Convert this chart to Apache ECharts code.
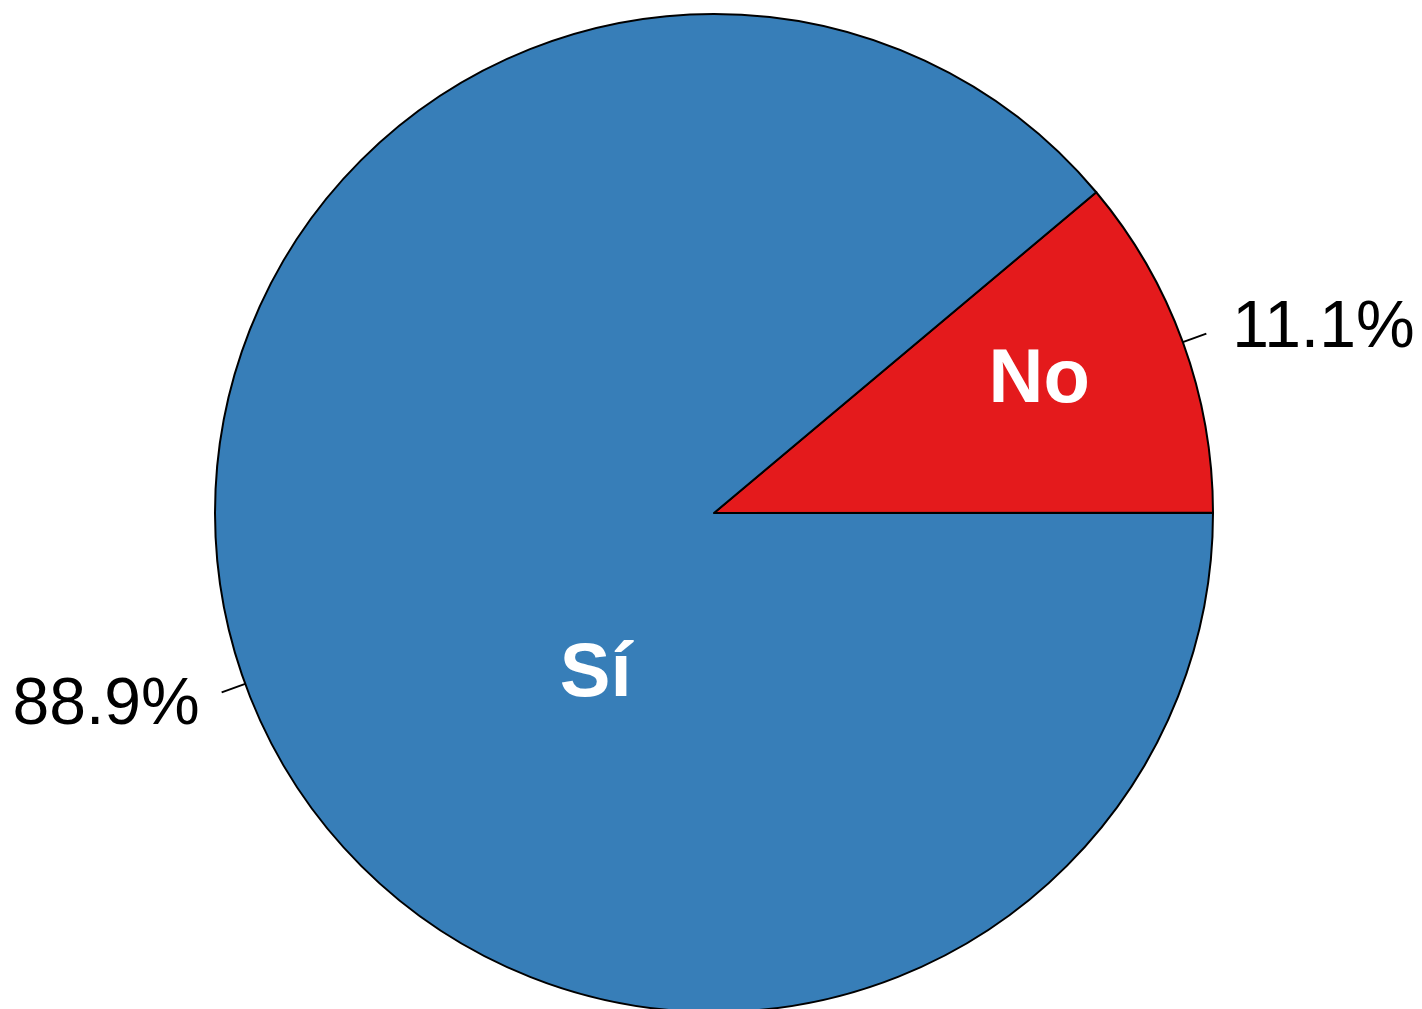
<!DOCTYPE html>
<html>
<head>
<meta charset="utf-8">
<script src="https://cdn.jsdelivr.net/npm/echarts@6/dist/echarts.min.js"></script>
<style>
  html, body { margin: 0; padding: 0; background: #fff; }
  #chart { width: 1422px; height: 1009px; }
</style>
</head>
<body>
<div id="chart"></div>
<script>
// Data
const categories = ['No', 'Sí'];
const percents = [11.1, 88.9];
const colors = ['#E41A1C', '#377EB8'];

// label nudges (inner names / outer percents), px
const innerShift = [[88, -46], [119, 76]];
const outerShift = [[21, -5], [-17, 13]];

const chart = echarts.init(document.getElementById('chart'), null, { renderer: 'canvas' });

const pieData = categories.map((name, i) => ({
  name,
  value: percents[i],
  itemStyle: { color: colors[i] }
}));

const common = {
  type: 'pie',
  center: [714, 513],
  radius: 499,
  startAngle: 40,
  clockwise: true,
  silent: true,
  animation: false
};

const option = {
  backgroundColor: '#ffffff',
  series: [
    {
      ...common,
      data: pieData,
      itemStyle: { borderColor: '#000', borderWidth: 2 },
      label: {
        show: true,
        position: 'inside',
        formatter: '{b}',
        color: '#ffffff',
        fontFamily: 'Liberation Sans, Arial, sans-serif',
        fontWeight: 'bold',
        fontSize: 76
      },
      labelLayout: (params) => ({
        dx: innerShift[params.dataIndex][0],
        dy: innerShift[params.dataIndex][1]
      })
    },
    {
      ...common,
      data: pieData.map(d => ({ ...d, itemStyle: { color: 'transparent' } })),
      itemStyle: { borderWidth: 0 },
      label: {
        show: true,
        position: 'outside',
        formatter: (p) => p.value.toFixed(1) + '%',
        color: '#000',
        fontFamily: 'Liberation Sans, Arial, sans-serif',
        fontSize: 66,
        distanceToLabelLine: 5
      },
      labelLine: {
        show: true,
        length: 25,
        length2: 0,
        lineStyle: { color: '#000', width: 2 }
      },
      labelLayout: (params) => ({
        dx: outerShift[params.dataIndex][0],
        dy: outerShift[params.dataIndex][1]
      })
    }
  ]
};

chart.setOption(option);
</script>
</body>
</html>
